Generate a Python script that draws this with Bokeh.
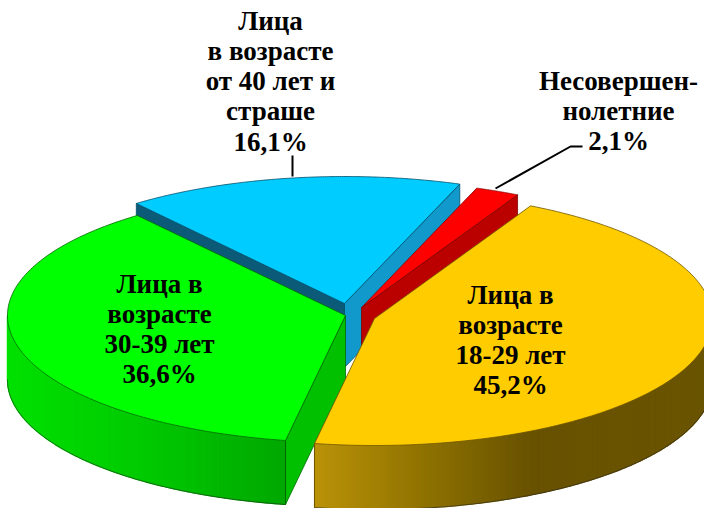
import numpy as np
from bokeh.plotting import figure
from bokeh.models import Range1d
from bokeh.core.properties import value
from bokeh.embed import file_html
from bokeh.resources import INLINE

# --- data
categories = ["Лица в возрасте 18-29 лет", "Лица в возрасте 30-39 лет",
              "Лица в возрасте от 40 лет и страше", "Несовершеннолетние"]
shares = [45.2, 36.6, 16.1, 2.1]
label_lines = [
    ["Лица в", "возрасте", "18-29 лет", "45,2%"],
    ["Лица в", "возрасте", "30-39 лет", "36,6%"],
    ["Лица", "в возрасте", "от 40 лет и", "страше", "16,1%"],
    ["Несовершен-", "нолетние", "2,1%"],
]

# --- layout (pixels of the 704x508 picture)
START_DEG = 27.5
RX, RY, DEPTH = 338.0, 127.0, 64.0
apex_x = [374, 345, 344, 361]
apex_y = [318, 315, 303, 307]
label_x = [510, 159, 270, 618]
label_y = [294, 283, 20, 80]
LINE_H = 30.3
FONT = value("Liberation Serif")

top_colors = ["#FFCC00", "#00FF00", "#00CCFF", "#FF0000"]
edge_colors = ["#6E5700", "#006A00", "#004F6B", "#800000"]
side_stops_x = {0: [315, 430, 530, 704], 1: [0, 150, 290]}
side_stops_c = {0: [(186, 146, 8), (140, 112, 0), (104, 82, 0), (106, 84, 0)],
                1: [(0, 226, 0), (0, 200, 0), (0, 166, 0)]}

p = figure(width=704, height=508, output_backend="svg", toolbar_location=None,
           x_range=Range1d(0, 704), y_range=Range1d(508, 0),
           min_border=0, background_fill_color="white", border_fill_color="white")
p.axis.visible = False
p.grid.visible = False
p.outline_line_color = None


def pt(i, deg):
    t = np.radians(deg)
    return apex_x[i] + RX * np.sin(t), apex_y[i] - RY * np.cos(t)


def hexc(c):
    return "#%02X%02X%02X" % tuple(int(round(v)) for v in c)


angles = {}
a = START_DEG
for i, s in enumerate(shares):
    angles[i] = (a, a + s * 3.6)
    a += s * 3.6

radial_faces = {0: [], 1: [("start", "#00C000")], 2: [("start", "#0B5A78"), ("end", "#1199CC")],
                3: [("end", "#BB0000")]}

for i in [2, 3, 1, 0]:  # back to front
    a0, a1 = angles[i]
    ax, ay = apex_x[i], apex_y[i]
    for which, col in radial_faces[i]:
        ex, ey = pt(i, a0 if which == "start" else a1)
        p.patch([ax, ex, ex, ax], [ay, ey, ey + DEPTH, ay + DEPTH],
                fill_color=col, line_color=edge_colors[i], line_width=0.8)
    lo, hi = max(a0, 90), min(a1, 270)
    if i in side_stops_x and hi > lo:
        n = 200
        degs = np.linspace(lo, hi, n + 1)
        sx, sc = side_stops_x[i], np.array(side_stops_c[i], float)
        for k in range(n):
            x0, y0 = pt(i, degs[k])
            x1, y1 = pt(i, degs[k + 1])
            xm = (x0 + x1) / 2
            col = hexc([np.interp(xm, sx, sc[:, c]) for c in range(3)])
            p.patch([x0, x1, x1, x0], [y0, y1, y1 + DEPTH, y0 + DEPTH],
                    fill_color=col, line_color=col, line_width=1.2)
        bx = [pt(i, d)[0] for d in degs]
        by = [pt(i, d)[1] + DEPTH for d in degs]
        p.line(bx, by, line_color="#222222", line_width=0.8, line_alpha=0.7)
        if i == 0:
            lastx, lasty = pt(i, a1)
            p.line([lastx, lastx], [lasty, lasty + DEPTH], line_color="#6B5500", line_width=1)
        else:
            lastx, lasty = pt(i, a0)
            p.line([lastx, lastx], [lasty, lasty + DEPTH], line_color="#006A00", line_width=1)
    degs = np.linspace(a0, a1, 160)
    xs = [ax] + [pt(i, d)[0] for d in degs]
    ys = [ay] + [pt(i, d)[1] for d in degs]
    p.patch(xs, ys, fill_color=top_colors[i], line_color=edge_colors[i], line_width=0.8)

# leader lines
p.line([292, 292], [155, 176], line_color="black", line_width=2)
p.line([582, 570, 495], [146, 146, 188], line_color="black", line_width=2)

# labels
for i, lines in enumerate(label_lines):
    for j, s in enumerate(lines):
        p.text([label_x[i]], [label_y[i] + j * LINE_H], text=[s], text_font=FONT,
               text_font_style="bold", text_font_size="27px", text_color="black",
               text_align="center", text_baseline="middle")

open("out.html", "w").write(file_html(p, INLINE))
